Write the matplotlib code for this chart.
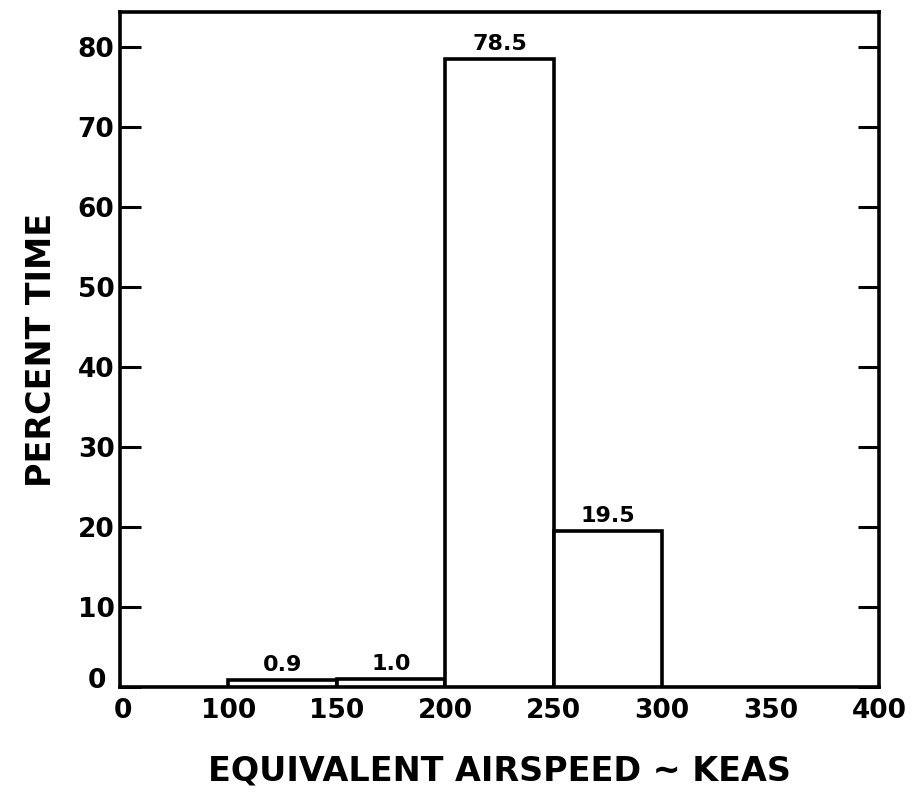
import numpy as np
import matplotlib.pyplot as plt
import matplotlib.transforms as mtransforms

# histogram bins (knots) and percent of time in each
bin_lo = [100, 150, 200, 250]
bin_hi = [150, 200, 250, 300]
pct = [0.9, 1.0, 78.5, 19.5]
pct_labels = ["0.9", "1.0", "78.5", "19.5"]

xticks = [0, 100, 150, 200, 250, 300, 350, 400]
yticks = [0, 10, 20, 30, 40, 50, 60, 70, 80]

# broken x scale: 0-100 takes the same room as each 50 kt step above
def fwd(x):
    x = np.asarray(x, dtype=float)
    return np.where(x < 100, x / 100.0, (x - 50) / 50.0)

def inv(y):
    y = np.asarray(y, dtype=float)
    return np.where(y < 1, y * 100.0, y * 50.0 + 50)

plt.rcParams['font.family'] = 'DejaVu Sans'
plt.rcParams['font.weight'] = 'bold'
plt.rcParams['axes.labelweight'] = 'bold'

fig = plt.figure(figsize=(9.13, 7.99), dpi=100)
ax = fig.add_axes([120/913, 1 - 687/799, (879-120)/913, (687-12)/799])
ax.set_xscale('function', functions=(fwd, inv))

widths = [h - l for l, h in zip(bin_lo, bin_hi)]
ax.bar(bin_lo, pct, width=widths, align='edge', facecolor='white',
       edgecolor='black', linewidth=2.6, zorder=3)
for l, h, v, s in zip(bin_lo, bin_hi, pct, pct_labels):
    xc = inv((fwd(l) + fwd(h)) / 2)
    ax.text(xc, v + 0.6, s, ha='center', va='bottom', fontsize=16,
            fontweight='semibold')

ax.set_xlim(0, 400)
ax.set_ylim(0, 84.4)
ax.set_xticks(xticks)
ax.set_xticklabels([str(t) for t in xticks])
ax.set_yticks(yticks)
ax.set_yticklabels([str(t) for t in yticks])
ax.tick_params(axis='x', length=0, labelsize=19, pad=8)
ax.tick_params(axis='y', direction='in', length=15, width=2.2,
               right=True, labelsize=19, pad=4)
for sp in ax.spines.values():
    sp.set_linewidth(2.6)

# nudge the two zero labels apart like the original
ylab0 = ax.get_yticklabels()[0]
ylab0.set_transform(ylab0.get_transform() +
                    mtransforms.ScaledTranslation(-0.08, 0.09, fig.dpi_scale_trans))
xlab0 = ax.get_xticklabels()[0]
xlab0.set_transform(xlab0.get_transform() +
                    mtransforms.ScaledTranslation(0.03, 0, fig.dpi_scale_trans))

ax.set_xlabel("EQUIVALENT AIRSPEED ~ KEAS", fontsize=24, labelpad=22)
ax.set_ylabel("PERCENT TIME", fontsize=24, labelpad=14)

fig.savefig("out.png", dpi=100)
